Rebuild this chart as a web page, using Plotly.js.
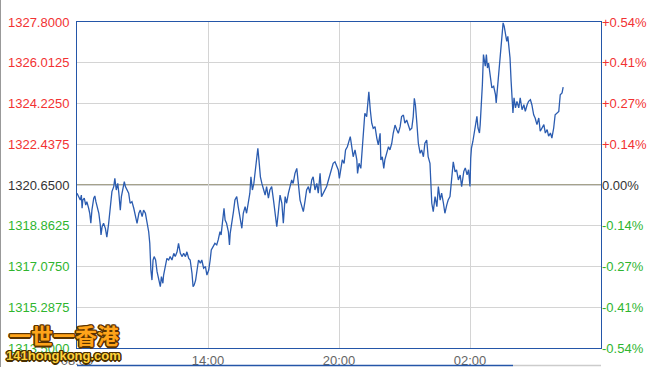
<!DOCTYPE html>
<html>
<head>
<meta charset="utf-8">
<script src="https://cdn.plot.ly/plotly-3.0.1.min.js"></script>
<style>
html,body{margin:0;padding:0;background:#fff;}
#chart{width:657px;height:367px;}
</style>
</head>
<body>
<div id="chart"></div>
<script>
// ---- data ----
const times = ["08:00","08:05","08:09","08:12","08:14","08:16","08:20","08:24","08:27","08:32","08:35","08:38","08:41","08:46","08:49","08:52","08:55","09:00","09:04","09:06","09:09","09:13","09:18","09:22","09:27","09:32","09:36","09:41","09:44","09:48","09:52","09:55","09:59","10:02","10:06","10:10","10:13","10:17","10:22","10:26","10:31","10:36","10:40","10:45","10:50","10:54","10:59","11:03","11:08","11:12","11:17","11:20","11:21","11:23","11:26","11:29","11:32","11:36","11:40","11:45","11:49","11:52","11:56","11:58","12:03","12:07","12:12","12:16","12:21","12:26","12:30","12:35","12:39","12:44","12:49","12:53","12:58","13:02","13:07","13:11","13:16","13:19","13:22","13:26","13:30","13:34","13:39","13:43","13:48","13:53","13:57","14:02","14:06","14:09","14:19","14:24","14:28","14:33","14:36","14:39","14:44","14:47","14:51","14:56","14:59","15:01","15:05","15:10","15:14","15:19","15:23","15:28","15:33","15:37","15:42","15:46","15:51","15:55","15:58","16:02","16:06","16:09","16:13","16:17","16:20","16:24","16:28","16:32","16:37","16:41","16:46","16:50","16:55","17:00","17:04","17:09","17:13","17:18","17:23","17:27","17:32","17:36","17:41","17:45","17:50","17:54","17:59","18:04","18:08","18:13","18:18","18:22","18:27","18:31","18:36","18:40","18:45","18:49","18:54","18:59","19:03","19:08","19:12","19:17","19:22","19:26","19:31","19:35","19:40","19:44","19:49","19:54","19:58","20:01","20:05","20:09","20:14","20:18","20:23","20:27","20:31","20:35","20:39","20:44","20:49","20:51","20:55","21:00","21:04","21:08","21:11","21:16","21:19","21:22","21:26","21:30","21:34","21:39","21:44","21:48","21:53","21:55","21:59","22:03","22:06","22:11","22:16","22:20","22:25","22:29","22:34","22:39","22:43","22:48","22:52","22:57","23:01","23:06","23:11","23:15","23:20","23:24","23:27","23:30","23:34","23:38","23:43","23:47","23:52","23:56","00:01","00:05","00:10","00:12","00:15","00:19","00:24","00:29","00:33","00:38","00:42","00:47","00:51","00:56","01:00","01:05","01:10","01:14","01:19","01:23","01:28","01:33","01:37","01:43","01:47","01:52","01:56","02:00","02:02","02:04","02:08","02:13","02:16","02:19","02:22","02:26","02:28","02:31","02:34","02:37","02:39","02:42","02:45","02:48","02:51","02:54","02:58","03:00","03:05","03:10","03:12","03:15","03:19","03:22","03:25","03:28","03:31","03:34","03:37","03:41","03:44","03:46","03:50","03:53","03:55","03:58","04:01","04:05","04:09","04:14","04:18","04:23","04:28","04:32","04:37","04:41","04:46","04:50","04:55","04:59","05:04","05:09","05:13","05:18","05:23","05:27","05:32","05:36","05:41","05:45","05:50","05:54","05:59","06:04","06:08","06:13","06:16"];
const prices = [1320.29,1320.14,1319.99,1320.21,1319.63,1319.99,1320.07,1319.77,1319.92,1319.63,1319.41,1318.97,1319.55,1320.07,1320.17,1319.92,1319.70,1319.41,1318.90,1318.46,1318.82,1318.97,1318.75,1318.36,1318.97,1319.85,1320.36,1320.58,1320.94,1320.43,1320.72,1320.29,1319.55,1320.14,1320.58,1320.80,1320.58,1320.43,1320.29,1319.85,1319.92,1319.63,1319.33,1318.97,1319.41,1319.55,1319.26,1319.55,1319.41,1319.11,1318.60,1318.09,1317.65,1316.92,1316.48,1317.36,1317.51,1317.36,1316.85,1316.48,1316.19,1316.63,1316.34,1316.70,1317.07,1317.43,1317.36,1317.51,1317.36,1317.65,1317.51,1317.72,1318.09,1317.65,1317.51,1317.65,1317.51,1317.72,1317.43,1317.36,1316.78,1316.19,1316.26,1316.48,1316.92,1317.36,1317.22,1317.36,1317.00,1317.07,1316.70,1316.92,1317.36,1317.80,1318.09,1318.02,1318.24,1318.60,1318.46,1318.97,1319.63,1319.11,1318.97,1318.60,1318.02,1318.53,1318.90,1319.48,1319.99,1320.14,1319.70,1319.11,1318.75,1319.41,1319.70,1319.41,1319.85,1320.29,1321.01,1320.43,1320.72,1321.16,1321.89,1322.26,1321.75,1321.01,1320.72,1320.43,1320.21,1320.58,1320.07,1320.43,1320.58,1319.99,1319.55,1318.82,1319.41,1320.21,1319.85,1318.97,1320.14,1319.85,1320.29,1320.58,1320.87,1320.72,1321.16,1321.38,1320.58,1319.99,1319.70,1319.48,1319.99,1320.43,1320.58,1320.29,1320.87,1321.01,1320.43,1320.72,1320.29,1321.16,1320.14,1320.29,1320.43,1320.58,1320.87,1321.09,1321.31,1321.60,1321.67,1321.45,1321.31,1320.94,1321.45,1321.75,1321.60,1322.19,1322.33,1322.55,1322.77,1322.33,1321.89,1322.19,1321.75,1321.16,1321.60,1321.38,1322.33,1323.50,1323.80,1323.65,1324.23,1324.74,1323.94,1323.36,1323.14,1323.21,1322.70,1322.41,1322.92,1321.75,1321.89,1321.38,1321.75,1322.11,1322.33,1322.19,1322.48,1322.92,1323.28,1323.06,1322.92,1323.21,1323.65,1323.72,1323.36,1323.50,1323.28,1323.06,1323.14,1323.65,1324.45,1324.16,1323.36,1322.48,1322.04,1322.19,1321.89,1322.48,1322.62,1321.89,1321.60,1320.72,1319.85,1319.48,1320.14,1319.70,1320.58,1319.99,1320.29,1319.85,1319.41,1319.77,1319.99,1320.14,1320.87,1321.67,1321.23,1321.31,1320.87,1321.09,1320.58,1321.25,1321.40,1321.10,1321.32,1320.59,1321.83,1322.27,1322.57,1323.15,1323.44,1323.66,1323.15,1322.93,1323.30,1324.03,1325.05,1326.37,1326.22,1325.86,1326.37,1325.78,1326.00,1325.56,1325.05,1324.91,1324.98,1324.61,1324.25,1324.76,1325.42,1325.93,1326.52,1327.10,1327.76,1327.61,1327.32,1326.95,1327.17,1326.80,1326.22,1325.20,1324.32,1323.81,1324.47,1324.03,1324.32,1324.03,1324.47,1323.95,1324.17,1323.88,1324.17,1324.32,1324.39,1324.17,1323.73,1323.59,1323.30,1323.59,1323.01,1323.15,1323.30,1322.93,1323.08,1322.79,1322.93,1322.71,1323.15,1323.73,1323.81,1323.88,1324.61,1324.69,1324.94];

const prevClose = 1320.65;
const priceTicks = [1313.5, 1315.2875, 1317.075, 1318.8625, 1320.65, 1322.4375, 1324.225, 1326.0125, 1327.8];
const priceLabels = ["1313.5000","1315.2875","1317.0750","1318.8625","1320.6500","1322.4375","1324.2250","1326.0125","1327.8000"];
const pctLabels = ["-0.54%","-0.41%","-0.27%","-0.14%","0.00%","+0.14%","+0.27%","+0.41%","+0.54%"];
const timeTicks = ["08:00","14:00","20:00","02:00"];
const watermarkTitle = "一世一香港";
const watermarkSite = "141hongkong.com";

// ---- build ----
const DAY1 = "2024-01-01", DAY2 = "2024-01-02";
function toDate(hm){ const h = parseInt(hm.slice(0,2),10); return (h < 8 ? DAY2 : DAY1) + " " + hm; }
const xs = times.map(toDate);
const RED = "#f23232", GREEN = "#2fb52f", NEUTRAL = "#333333";
function colorFor(v){ return v > prevClose + 1e-9 ? RED : (v < prevClose - 1e-9 ? GREEN : NEUTRAL); }
const leftText = priceTicks.map((v,i)=>'<span style="color:'+colorFor(v)+'">'+priceLabels[i]+'</span>');
const rightText = priceTicks.map((v,i)=>'<span style="color:'+colorFor(v)+'">'+pctLabels[i]+'</span>');

const FRAME = "#2456a8";
const FONT = "Liberation Sans, Arial, sans-serif";

const traces = [
  {x: xs, y: prices, type: "scatter", mode: "lines", line: {color: "#2b5cb0", width: 1.3}, hoverinfo: "skip", showlegend: false},
  {x: xs, y: prices, type: "scatter", mode: "lines", yaxis: "y2", line: {color: "rgba(0,0,0,0)", width: 0}, hoverinfo: "skip", showlegend: false}
];

const yRange = [priceTicks[0], priceTicks[priceTicks.length-1]];

const W = 524, H = 326, L = 77, T = 22;
function px(xp){ return (xp - L) / W; }
function py(yp){ return (T + H - yp) / H; }
function outlineShadow(c){
  return ["1.5px 0 0 "+c,"-1.5px 0 0 "+c,"0 1.5px 0 "+c,"0 -1.5px 0 "+c,"1px 1px 0 "+c,"-1px -1px 0 "+c,"1px -1px 0 "+c,"-1px 1px 0 "+c].join(", ");
}
const annotations = [
  {text: "<b>" + watermarkTitle + "</b>", xref: "paper", yref: "paper", x: px(64), y: py(334), xanchor: "center", yanchor: "middle", showarrow: false,
   font: {family: "Noto Sans CJK SC, sans-serif", size: 22, color: "#ffa41a", weight: 900, shadow: outlineShadow("#5a3300")}},
  {text: "<b>" + watermarkSite + "</b>", xref: "paper", yref: "paper", x: px(63), y: py(355), xanchor: "center", yanchor: "middle", showarrow: false,
   font: {family: "Liberation Sans, Arial, sans-serif", size: 13, color: "#ffd23a", weight: 900, shadow: outlineShadow("#4a3000")}}
];

const layout = {
  width: 657, height: 367,
  margin: {l: L, r: 657 - L - W, t: T, b: 367 - T - H, pad: 0},
  paper_bgcolor: "#ffffff", plot_bgcolor: "#ffffff",
  font: {family: FONT, size: 13, color: "#333"},
  showlegend: false,
  xaxis: {
    type: "date", range: [DAY1 + " 08:00", DAY2 + " 08:00"],
    tickvals: timeTicks.map(toDate), ticktext: timeTicks,
    showgrid: true, gridcolor: "#d4d4d4", gridwidth: 1,
    showline: true, mirror: true, linecolor: FRAME, linewidth: 1,
    ticks: "", tickfont: {family: FONT, size: 13, color: "#666"},
    zeroline: false, fixedrange: true
  },
  yaxis: {
    range: yRange, tickvals: priceTicks, ticktext: leftText,
    showgrid: true, gridcolor: "#d4d4d4", gridwidth: 1,
    showline: true, mirror: true, linecolor: FRAME, linewidth: 1,
    ticks: "outside", ticklen: 4, tickcolor: "rgba(0,0,0,0)",
    tickfont: {family: FONT, size: 13}, zeroline: false, fixedrange: true
  },
  yaxis2: {
    range: yRange, tickvals: priceTicks, ticktext: rightText,
    overlaying: "y", side: "right", showgrid: false, zeroline: false,
    ticks: "", tickfont: {family: FONT, size: 13}, fixedrange: true
  },
  shapes: [
    {type: "line", xref: "paper", yref: "y", x0: 0, x1: 1, y0: prevClose, y1: prevClose, line: {color: "#4a4418", width: 1}, layer: "between"},
    {type: "line", xref: "paper", yref: "paper", x0: 0, x1: px(513), y0: py(365.5), y1: py(365.5), line: {color: FRAME, width: 1.5}},
    {type: "line", xref: "paper", yref: "paper", x0: px(513), x1: 1, y0: py(365.5), y1: py(365.5), line: {color: "#cccccc", width: 1.5}},
    {type: "line", xref: "paper", yref: "paper", x0: px(0.5), x1: px(0.5), y0: py(0), y1: py(367), line: {color: "#999999", width: 1}}
  ],
  annotations: annotations
};

Plotly.newPlot("chart", traces, layout, {displayModeBar: false, staticPlot: true});
</script>
</body>
</html>
